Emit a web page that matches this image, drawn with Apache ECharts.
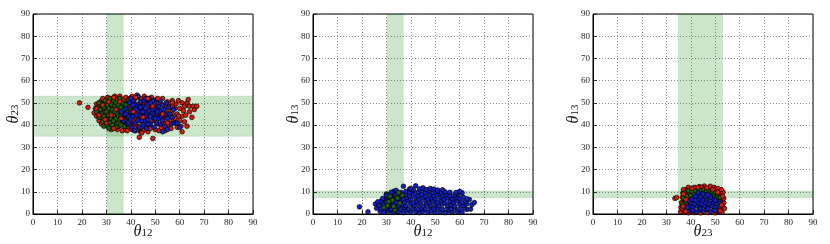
<!DOCTYPE html>
<html><head><meta charset="utf-8">
<script src="https://cdn.jsdelivr.net/npm/echarts@6/dist/echarts.min.js"></script>
<style>html,body{margin:0;padding:0;background:#fff}#c{width:830px;height:244px}</style>
</head><body><div id="c"></div>
<script>
// ---- data ----
const ticks = [0,10,20,30,40,50,60,70,80,90];
const band12 = [30.4, 36.9];
const band23 = [35, 53];
const band13 = [7.3, 10.4];

// panel 1: theta12 vs theta23
const p1Green = [[26,46],[26.5,48],[27,43.5],[27.5,47],[28,45],[28,49.5],[28.5,41.5],[29,44],[29,48],[29.5,51],[30,42.5],[30,46],[30.5,39.5],[30.5,49],[31,44.5],[31,47.5],[31.5,41],[31.5,52],[32,43],[32,45.5],[32,49.5],[32.5,40],[32.5,47],[33,42],[33,44.5],[33,51],[33.5,46],[33.5,48.5],[34,39],[34,43],[34,50],[34.5,45],[34.5,47.5],[35,41],[35,44],[35,49],[35.5,42.5],[35.5,46.5],[35.5,52],[36,40],[36,44],[36,48],[36.5,45.5],[36.5,50],[37,42],[37,47],[37.5,39.5],[37.5,44.5],[38,49],[38,41.5],[38.5,46],[39,43.5],[39,51],[39.5,40],[40,47.5],[40.5,44],[41,50],[29,39.5],[31,38.5],[27,50]];
const p1Red = [[19,50],[22.5,48],[25,45.5],[25.5,47.5],[26,44],[26,49.5],[26.5,46],[27,42],[27,48.5],[27.5,45],[27.5,50.5],[28,40.5],[28,47],[28.5,43],[28.5,52],[29,45.5],[29,49.5],[29.5,40],[29.5,47.5],[30,43.5],[30,50],[30.5,45],[30.5,52.5],[31,40.5],[31,48],[31.5,43],[31.5,46],[32,50.5],[32,38],[32.5,44],[32.5,52],[33,47.5],[33,40],[33.5,49.5],[33.5,53],[34,42],[34,45.5],[34.5,38],[34.5,51.5],[35,47],[35,39.5],[35.5,44],[35.5,53],[36,41.5],[36,49.5],[36.5,37.5],[36.5,46.5],[37,44],[37,51.5],[37.5,40],[37.5,48],[38,38],[38,52.5],[38.5,43],[38.5,50],[39,39],[39,46.5],[39.5,52],[40,41],[40,49],[40.5,38],[40.5,53],[41,44.5],[41.5,40],[41.5,51.5],[42,37.5],[42,47],[42.5,53.5],[43,39.5],[43,49.5],[43.5,34.5],[43.5,44],[44,38],[44,52],[44.5,41.5],[45,47.5],[45,37.5],[45.5,53],[46,39.5],[46,50],[46.5,43],[47,37],[47,51.5],[47.5,40.5],[48,46],[48,38.5],[48.5,52.5],[49,34],[49,42],[49.5,49],[50,38],[50,44.5],[50.5,51.5],[51,40.5],[51,47],[51.5,37.5],[52,43],[52,50],[52.5,39],[53,46],[53,52],[53.5,41],[54,48.5],[54,37.5],[54.5,44],[55,50.5],[55,40],[55.5,46.5],[56,42.5],[56,48.5],[56.5,38.5],[57,45],[57,51],[57.5,41],[58,47.5],[58,43],[58.5,49.5],[59,39],[59,45],[59.5,51],[60,42],[60,47.5],[60.5,39.5],[61,37],[61,44],[61,50],[61.5,46.5],[62,41.5],[62,48.5],[62.5,44.5],[63,50],[63,39.5],[63.5,51.5],[64,46],[64,48.5],[65,43.5],[65.5,48.5],[66,47],[67,48.5],[44,45],[46,46],[42,43],[48,48],[50,42],[45,50],[52,45],[47,44],[43,47],[55,45],[53,43],[57,48.5],[40,45],[41,42],[39,49]];
const p1RedTop = [[27,44.5],[28.5,49],[30,41],[31,50.5],[32,44.5],[33,38.5],[34,47],[35.5,50.5],[36,43],[26,47.5],[29.5,42.5],[33,52.5],[38.5,37.5],[42,52.5],[47,52],[51,52],[44.5,36.5],[55,41],[57,50],[59.5,44],[45,43.5],[49,48.5],[41,46],[53,45]];
const p1Blue = [[37,42],[37.5,45],[38,47.5],[38.5,40.5],[39,44],[39.5,50],[40,42.5],[40,46],[40.5,48.5],[40.5,39],[41,44],[41,51],[41.5,46.5],[42,41],[42,49],[42.5,44.5],[42.5,52.5],[43,42],[43,46.5],[43.5,48.5],[43.5,39],[44,44],[44,50.5],[44.5,46],[44.5,42],[45,48.5],[45,40],[45.5,44.5],[45.5,51],[46,42],[46,47.5],[46.5,45],[46.5,38.5],[47,49.5],[47,42.5],[47.5,46.5],[47.5,52],[48,44],[48,40.5],[48.5,48],[49,45.5],[49,51],[49.5,43],[49.5,39],[50,47],[50,49.5],[50.5,41],[50.5,45],[51,51.5],[51,43],[51.5,48.5],[52,46.5],[52,40.5],[52.5,44],[53,49],[53,42],[53.5,47],[54,45],[54,39.5],[54.5,50],[55,43],[55.5,48],[56,45],[56.5,40.5],[57,43.5],[57.5,47],[58,41],[59,41],[60,39],[55,38],[53,37],[41.5,37.5],[44,37],[46,52],[43,53],[38,45],[39,41],[40,52],[42,47],[45,46],[48,50],[50,43],[52,51],[46,44],[44,48],[41,49],[49,47],[36,46],[36.5,43],[47,40.5],[51,46]];

// panel 2: theta12 vs theta13
const p2Blue = [[27.5,1.2],[29,0.8],[31,1.3],[33,0.7],[35,1.1],[37,0.6],[38.5,1.4],[40,0.9],[42,1.2],[43.5,0.6],[45,1.3],[47,0.8],[48.5,1.4],[50,0.7],[52,1.1],[54,0.6],[55.5,1.3],[57,0.9],[59,1.2],[61,0.8],[63,2],[64.5,2.2],[22.5,1],[19,3.2],
[26,2.6],[28,2.3],[30,2.8],[32,2.1],[34,2.7],[36,2.2],[37.5,2.9],[39,2.3],[41,2.8],[43,2.1],[44.5,2.7],[46,2.2],[48,2.9],[49.5,2.3],[51,2.7],[53,2.1],[55,2.8],[56.5,2.3],[58,2.9],[60,2.2],[62,2.7],
[25.5,4.5],[27,3.8],[29,4.2],[31,3.6],[33,4.4],[35,3.8],[36.5,4.3],[38,3.7],[40,4.4],[41.5,3.8],[43,4.3],[45,3.6],[46.5,4.4],[48,3.8],[50,4.3],[51.5,3.7],[53,4.4],[55,3.8],[56.5,4.3],[58,3.6],[60,4.4],[61.5,3.8],[63,4.5],[65,4.2],
[26.5,5.5],[28,6],[30,5.3],[32,5.9],[34,5.2],[36,5.8],[37.5,5.3],[39,5.9],[41,5.2],[42.5,5.8],[44,5.3],[46,5.9],[47.5,5.2],[49,5.8],[51,5.3],[52.5,5.9],[54,5.2],[56,5.8],[57.5,5.3],[59,5.9],[61,5.2],[62.5,5.8],[64,6.5],[66,5.2],[63,6.8],
[28.5,7],[31,7.2],[33,6.6],[35,7.3],[37,6.7],[38.5,7.4],[40,6.8],[42,7.3],[43.5,6.6],[45,7.4],[47,6.7],[48.5,7.3],[50,6.8],[52,7.4],[53.5,6.6],[55,7.3],[57,6.8],[58.5,7.4],[60,6.9],[61.5,7.5],
[30,8.5],[32,8.2],[34,8.8],[36,8.1],[38,8.7],[39.5,8.2],[41,8.9],[43,8.3],[44.5,8.8],[46,8.1],[48,8.7],[49.5,8.2],[51,8.9],[53,8.3],[54.5,8.7],[56,8.2],[58,8.6],[59.5,9],[61,9.5],[60,10.2],[58.5,9.7],
[32,9.8],[34,10.3],[36,9.7],[38,10.2],[39.5,9.6],[41,10.4],[43,9.8],[44.5,10.5],[46,9.6],[47.5,10.3],[49,9.7],[51,10.2],[52.5,9.6],[54,10],[56,9.8],[34,10.6],
[37,12.5],[39.5,11.2],[41,11],[42,12.7],[43.5,11.3],[45,11.8],[46.5,11],[48,11.5],[49.5,11.2],[51,10.8],[53,10.9],[40,11.5]];
const p2Green = [[29.5,2],[30,4.8],[30.5,7.5],[31,3.2],[31.5,6],[32,1.5],[32,8.8],[32.5,4.5],[33,7],[33.5,2.8],[34,5.5],[34,9.5],[34.5,1.2],[35,3.8],[35,7.8],[35.5,6.3],[36,2.3],[36,9],[36.5,4.9],[37,7.2],[30,9],[33,10.2],[28,4],[29,6.5],[37.5,3.5]];
const p2GreenTop = [[30.5,3.8],[31.5,8],[32.5,6.2],[33.5,1.8],[34.5,7.2],[35.5,4.8],[36.5,8.4],[31,5.6],[33,3.4],[35,9.6],[29,3]];

// panel 3: theta23 vs theta13
const p3Red = [[33.5,7],[34.2,7.4],[35.8,1],[36,3],[36.2,5.2],[36.5,7.5],[36.8,9.5],[37,1.8],[37.2,4],[37.5,6.3],[37.8,8.5],[38,10.8],[38.3,2.8],[38.5,11.2],[39,9.8],[39.5,7],[40,11],[40.5,0.8],[41,9.5],[42,11.5],[43,10.2],[43.5,12.3],[44,9],[45,11.3],[45.5,12.6],[46,10],[47,11.5],[47.5,9.3],[48,12.5],[48.5,10.5],[49,8.8],[50,11],[50.5,9.5],[51,7],[51.5,10.3],[51.8,4.5],[52,2.3],[52.2,8.5],[52.5,6],[52.8,0.8],[53,3.5],[53.2,9.8],[53.5,7],[53.8,2.5],[53.5,5],[52.5,11],[51,11.5],[49.5,12],[44.5,12],[41.5,12],[39,12],[37,11],[38.5,4.5],[39,0.5],[41.5,0.6],[44,0.5],[47,0.6],[50,0.5],[51.5,1.5],[37.5,0.7],[36.5,2.5]];
const p3Green = [[37,7],[37.5,9.5],[38,5.5],[38.5,8],[39,10.5],[39.5,3],[40,8.5],[40.5,10],[41,6.5],[41.5,9],[42,10.5],[42.5,8],[43,11.2],[43.5,9.2],[44,10.5],[44.5,8],[45,9.5],[45.5,11],[46,8.5],[46.5,10.3],[47,9],[48,10.2],[48.5,8.5],[49,10],[49.5,8],[50,9.8],[50.5,7.5],[51,9],[51.5,5.5],[52,7.5],[36.5,4.5],[38,2],[50,2],[51,4]];
const p3Blue = [[39,1.2],[40.5,2],[42,1],[43.5,1.8],[45,1.2],[46.5,2],[48,1],[49.5,1.8],[51,1.2],[39.5,3.5],[41,3],[42.5,3.6],[44,3],[45.5,3.6],[47,3],[48.5,3.6],[50,3],[40,5],[41.5,4.6],[43,5.2],[44.5,4.6],[46,5.2],[47.5,4.6],[49,5.2],[50.5,4.8],[40.5,6.6],[42,6.2],[43.5,6.8],[45,6.2],[46.5,6.8],[48,6.2],[49.5,6.8],[42,8],[44,7.8],[46,8],[48,7.6],[45,9],[43,9.5],[47,8.6],[50,6],[39,5.8],[38.5,3],[41,1.6],[44,2.4],[47,2.4],[50,1.6],[52,5]];
const p3RedTop = [[37,9],[38,6.5],[40.5,11.5],[43,12],[46.5,11.8],[49,11],[51,9.8],[52.5,4],[53,8],[36.8,3.5],[38,1.2],[52,1.5]];

const panels = [
  {x:'12', y:'23', vband: band12, hband: band23, layers: [['r',p1Red],['g',p1Green],['b',p1Blue],['r',p1RedTop]]},
  {x:'12', y:'13', vband: band12, hband: band13, layers: [['g',p2Green],['b',p2Blue],['g',p2GreenTop]]},
  {x:'23', y:'13', vband: band23, hband: band13, layers: [['r',p3Red],['g',p3Green],['b',p3Blue],['r',p3RedTop]]}
];

// ---- chart ----
const colors = {r:'#d81c0c', g:'#1d6412', b:'#1420c0'};
const lefts = [33, 313, 593];
const serif = "'Liberation Serif', 'DejaVu Serif', serif";
const nameRich = {
  t:{fontFamily:serif, fontStyle:'italic', fontSize:16, color:'#111', lineHeight:15},
  s:{fontFamily:serif, fontSize:11, color:'#111', lineHeight:15, verticalAlign:'bottom', padding:[6,0,0,0]}
};
function axisBase(name, gap, isY) {
  return {
    type:'value', min:0, max:90, interval:10,
    name:'{t|θ}{s|' + name + '}', nameLocation:'middle', nameGap:gap, nameMoveOverlap:false,
    nameTextStyle:{rich:nameRich},
    axisLine:{show:true, lineStyle:{color:'#000', width:1}},
    axisTick:{show:true, inside:true, length:4, lineStyle:{color:'#000', width:0.8}},
    axisLabel:{fontFamily:serif, fontSize:9, color:'#222', margin: isY?3:4},
    splitLine:{show:true, lineStyle:{color:'#555', width:0.7, type:[1,2]}}
  };
}
const grid = [], xAxis = [], yAxis = [], series = [];
panels.forEach((p, i) => {
  grid.push({left:lefts[i], top:14, width:220, height:200, show:true, borderColor:'#000', borderWidth:1,
    backgroundColor:'transparent', containLabel:false, outerBoundsMode:'none'});
  xAxis.push(Object.assign(axisBase(p.x, 10, false), {gridIndex:i}));
  yAxis.push(Object.assign(axisBase(p.y, 12, true), {gridIndex:i, nameRotate:90}));
  const bandStyle = {color:'rgba(0,128,0,0.2)', borderColor:'rgba(0,110,0,0.12)', borderWidth:1};
  series.push({
    type:'scatter', xAxisIndex:i, yAxisIndex:i, data:[], z:1, silent:true,
    markArea:{silent:true, itemStyle:bandStyle, data:[
      [{xAxis:p.vband[0]},{xAxis:p.vband[1]}],
      [{yAxis:p.hband[0]},{yAxis:p.hband[1]}]
    ]}
  });
  p.layers.forEach((l, k) => {
    series.push({
      type:'scatter', xAxisIndex:i, yAxisIndex:i, data:l[1], z:3+k,
      symbol:'circle', symbolSize:4.6,
      itemStyle:{color:colors[l[0]], borderColor:'#000', borderWidth:0.7, opacity:1}
    });
  });
});
const chart = echarts.init(document.getElementById('c'), null, {renderer:'canvas'});
chart.setOption({animation:false, grid, xAxis, yAxis, series});
</script>
</body></html>
